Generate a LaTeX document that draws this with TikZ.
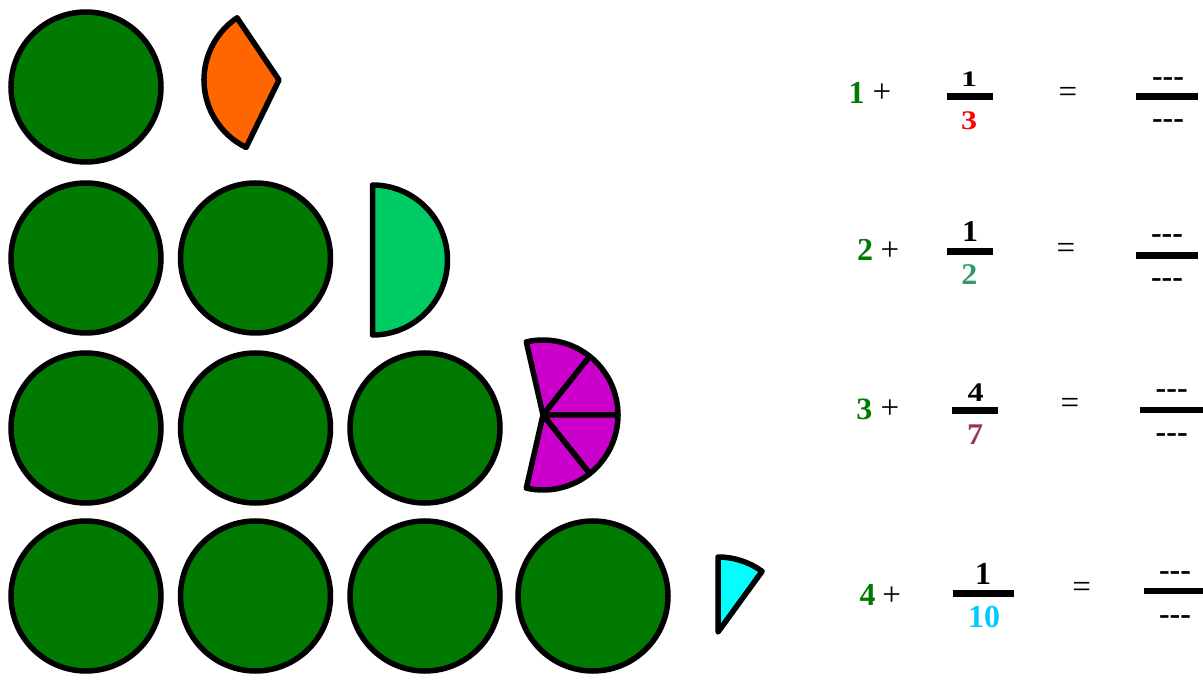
\documentclass[tikz,border=0pt]{standalone}
\usepackage{fontspec}
\usepackage{graphicx}
\setmainfont{Liberation Serif}
\definecolor{dkgreen}{RGB}{0,122,0}
\definecolor{orng}{HTML}{FF6600}
\definecolor{halfgreen}{HTML}{00CC66}
\definecolor{magen}{HTML}{CC00CC}
\definecolor{cyanfill}{HTML}{00FFFF}
\definecolor{redtxt}{HTML}{FF0000}
\definecolor{tealtxt}{HTML}{339966}
\definecolor{plumtxt}{HTML}{993366}
\definecolor{skytxt}{HTML}{00CCFF}
\tikzset{
  disc/.style={circle, draw=black, line width=5.5pt, fill=dkgreen, minimum size=150pt, inner sep=0pt},
  piece/.style={draw=black, line width=5.5pt, line join=round},
  txt/.style={anchor=base, inner sep=0pt, font=\bfseries\fontsize{32}{32}\selectfont},
  op/.style={anchor=base, inner sep=0pt, font=\fontsize{33}{33}\selectfont},
  fracbar/.style={line width=6.5pt},
}
\newcommand{\threedash}{\mbox{-}\mbox{-}\mbox{-}}
\newcommand{\squash}[2]{\scalebox{1}[#1]{#2}}
\begin{document}
\begin{tikzpicture}[x=1pt,y=-1pt]
\useasboundingbox (0,0) rectangle (1203,684);
% discs
\node[disc] (c11) at (86,87) {};
\node[disc] (c21) at (86,258) {};
\node[disc] (c22) at (255.5,258) {};
\node[disc] (c31) at (86,428) {};
\node[disc] (c32) at (255.5,428) {};
\node[disc] (c33) at (425,428) {};
\node[disc] (c41) at (86,596) {};
\node[disc] (c42) at (255.5,596) {};
\node[disc] (c43) at (425,596) {};
\node[disc] (c44) at (593,596) {};
% orange third
\coordinate (po) at (279,80);
\filldraw[piece, fill=orng] (po) -- ++(116:75) arc[start angle=116, end angle=236, radius=75] -- cycle;
% green half
\coordinate (ph) at (372.5,260);
\filldraw[piece, fill=halfgreen] (ph) -- ++(-90:75) arc[start angle=-90, end angle=90, radius=75] -- cycle;
% magenta four sevenths
\coordinate (pm) at (543,415);
\foreach \k in {-2,-1,0,1}{
  \filldraw[piece, fill=magen] (pm) -- ++({\k*360/7}:75) arc[start angle={\k*360/7}, end angle={(\k+1)*360/7}, radius=75] -- cycle;
}
% cyan tenth
\coordinate (pc) at (718,632);
\filldraw[piece, fill=cyanfill] (pc) -- ++(-90:75) arc[start angle=-90, end angle=-54, radius=75] -- cycle;

% row 1
\node[txt, text=dkgreen] (w1) at (856.5,103.3) {1};
\node[op] (p1) at (882,103) {+};
\node[txt] (n1) at (969,86.7) {\squash{0.69}{1}};
\draw[fracbar] (947,96.7) -- (993,96.7);
\node[txt, text=redtxt] (d1) at (969,130) {\squash{0.84}{3}};
\node[op] (e1) at (1068,103) {=};
\draw[fracbar] (1136,96.7) -- (1198,96.7);
\node[txt] (a1) at (1168,86.5) {\threedash};
\node[txt] (b1) at (1168,129) {\threedash};

% row 2
\node[txt, text=dkgreen] (w2) at (865,261) {2};
\node[op] (p2) at (890,261) {+};
\node[txt] (n2) at (970,241.7) {\squash{0.94}{1}};
\draw[fracbar] (947,251.7) -- (993,251.7);
\node[txt, text=tealtxt] (d2) at (969.3,285) {\squash{0.94}{2}};
\node[op] (e2) at (1066,259) {=};
\draw[fracbar] (1136,255.7) -- (1198,255.7);
\node[txt] (a2) at (1167,244) {\threedash};
\node[txt] (b2) at (1167,288) {\threedash};

% row 3
\node[txt, text=dkgreen] (w3) at (864.3,419.3) {\squash{0.97}{3}};
\node[op] (p3) at (890,419) {+};
\node[txt] (n3) at (975.7,401.7) {\squash{0.84}{4}};
\draw[fracbar] (952.3,410.7) -- (998.3,410.7);
\node[txt, text=plumtxt] (d3) at (975,445) {\squash{0.94}{7}};
\node[op] (e3) at (1070,414) {=};
\draw[fracbar] (1140,410) -- (1203,410);
\node[txt] (a3) at (1171.7,399) {\threedash};
\node[txt] (b3) at (1171.7,442.3) {\threedash};

% row 4
\node[txt, text=dkgreen] (w4) at (867.7,605) {4};
\node[op] (p4) at (891.7,605) {+};
\node[txt] (n4) at (983,584.3) {1};
\draw[fracbar] (952.7,593.7) -- (1014,593.7);
\node[txt, text=skytxt] (d4) at (984,627.3) {10};
\node[op] (e4) at (1081.7,597) {=};
\draw[fracbar] (1144,591) -- (1203,591);
\node[txt] (a4) at (1175,580.3) {\threedash};
\node[txt] (b4) at (1175,624.3) {\threedash};
\end{tikzpicture}
\end{document}
